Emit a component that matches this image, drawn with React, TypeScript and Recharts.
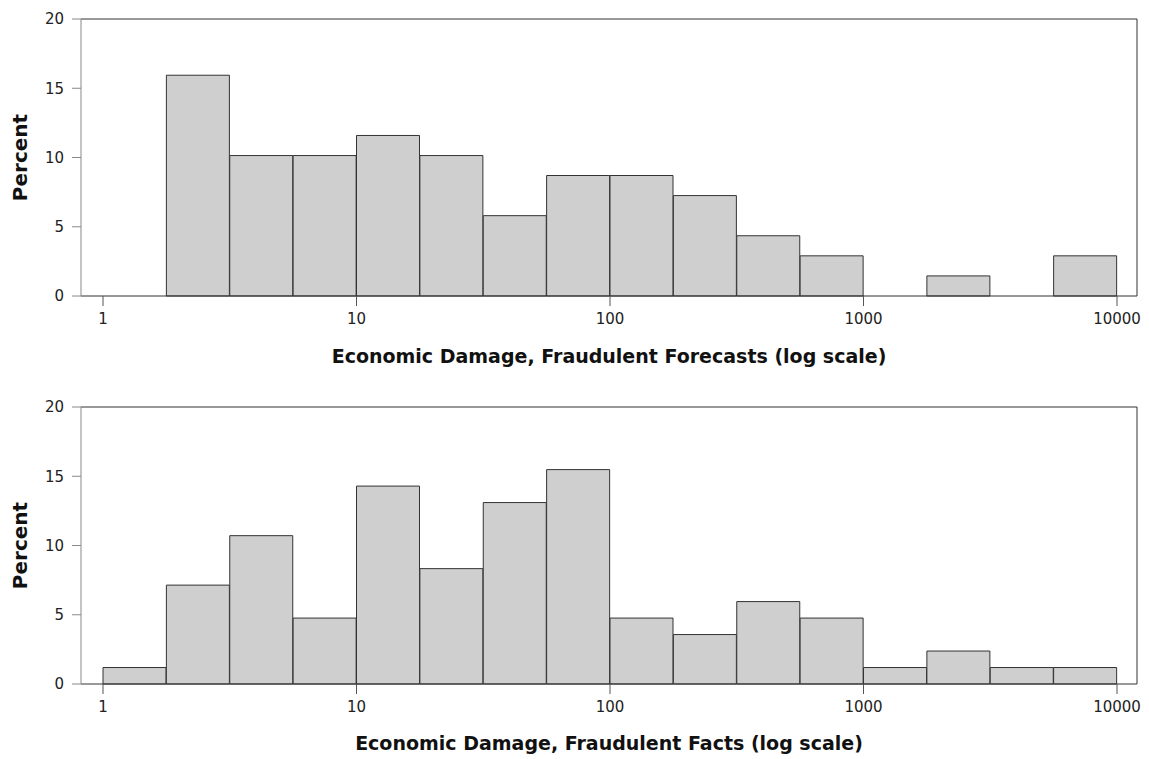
import { BarChart, Bar, XAxis, YAxis, CartesianGrid } from "recharts";

// lower edge of each log bin (width 0.25 decade)
const BIN_LOWER = ["1", "1.78", "3.16", "5.62", "10", "17.8", "31.6", "56.2", "100", "178", "316", "562", "1000", "1778", "3162", "5623"];
const BIN_LOG = [0, 0.25, 0.5, 0.75, 1, 1.25, 1.5, 1.75, 2, 2.25, 2.5, 2.75, 3, 3.25, 3.5, 3.75];

const FORECAST_PCT = [0, 15.94, 10.14, 10.14, 11.59, 10.14, 5.8, 8.7, 8.7, 7.25, 4.35, 2.9, 0, 1.45, 0, 2.9];
const FACT_PCT = [1.19, 7.14, 10.71, 4.76, 14.29, 8.33, 13.1, 15.48, 4.76, 3.57, 5.95, 4.76, 1.19, 2.38, 1.19, 1.19];

const LOG_TICKS = [0, 1, 2, 3, 4];
const Y_TICKS = [0, 5, 10, 15, 20];

const FONT = "'DejaVu Sans', Verdana, sans-serif";
const PAD = { left: 22, right: 20 };

type GridArgs = { offset: { top: number; left: number; width: number } };
const topEdge = ({ offset }: GridArgs) => [offset.top];
const rightEdge = ({ offset }: GridArgs) => [offset.left + offset.width];

function Histogram({
  values,
  title,
  marginTop,
  marginBottom,
  titleOffset,
  height,
}: {
  values: number[];
  title: string;
  marginTop: number;
  marginBottom: number;
  titleOffset: number;
  height: number;
}) {
  const data = BIN_LOWER.map((b, i) => ({ bin: b, logLower: BIN_LOG[i], pct: values[i] }));
  return (
    <BarChart
      width={1149}
      height={height}
      data={data}
      barCategoryGap={0}
      margin={{ top: marginTop, right: 12, bottom: marginBottom, left: 0 }}
    >
      <CartesianGrid
        stroke="#333"
        strokeDasharray="0"
        horizontalCoordinatesGenerator={topEdge}
        verticalCoordinatesGenerator={rightEdge}
      />
      <XAxis
        xAxisId="log"
        dataKey="logLower"
        type="number"
        domain={[0, 4]}
        ticks={LOG_TICKS}
        allowDataOverflow
        padding={PAD}
        height={70}
        tickFormatter={(v: number) => String(Math.round(Math.pow(10, v)))}
        tick={{ fill: "#222", fontSize: 15, fontFamily: FONT }}
        tickSize={10}
        tickMargin={7}
        axisLine={{ stroke: "#333" }}
        tickLine={{ stroke: "#555" }}
        label={{
          value: title,
          position: "insideBottom",
          offset: titleOffset,
          style: { fontFamily: FONT, fontWeight: "bold", fontSize: 19, fill: "#111", textAnchor: "middle" },
        }}
      />
      <XAxis xAxisId="bins" dataKey="bin" type="category" hide height={0} padding={PAD} />
      <YAxis
        yAxisId="pct"
        domain={[0, 20]}
        ticks={Y_TICKS}
        width={81}
        tick={{ fill: "#222", fontSize: 15, fontFamily: FONT }}
        tickSize={9}
        tickMargin={8}
        axisLine={{ stroke: "#888" }}
        tickLine={{ stroke: "#888" }}
        label={{
          value: "Percent",
          angle: -90,
          position: "insideLeft",
          offset: 20,
          style: { fontFamily: FONT, fontWeight: "bold", fontSize: 20, fill: "#111", textAnchor: "middle" },
        }}
      />
      <Bar
        xAxisId="bins"
        yAxisId="pct"
        dataKey="pct"
        fill="#cfcfcf"
        stroke="#333"
        strokeWidth={1}
        isAnimationActive={false}
      />
    </BarChart>
  );
}

export default function App() {
  return (
    <div style={{ position: "absolute", left: 0, top: 0, width: 1149, height: 759, background: "#fff" }}>
      <Histogram
        values={FORECAST_PCT}
        title="Economic Damage, Fraudulent Forecasts (log scale)"
        marginTop={19}
        marginBottom={14}
        titleOffset={3}
        height={380}
      />
      <Histogram
        values={FACT_PCT}
        title="Economic Damage, Fraudulent Facts (log scale)"
        marginTop={27}
        marginBottom={5}
        titleOffset={4}
        height={379}
      />
    </div>
  );
}
